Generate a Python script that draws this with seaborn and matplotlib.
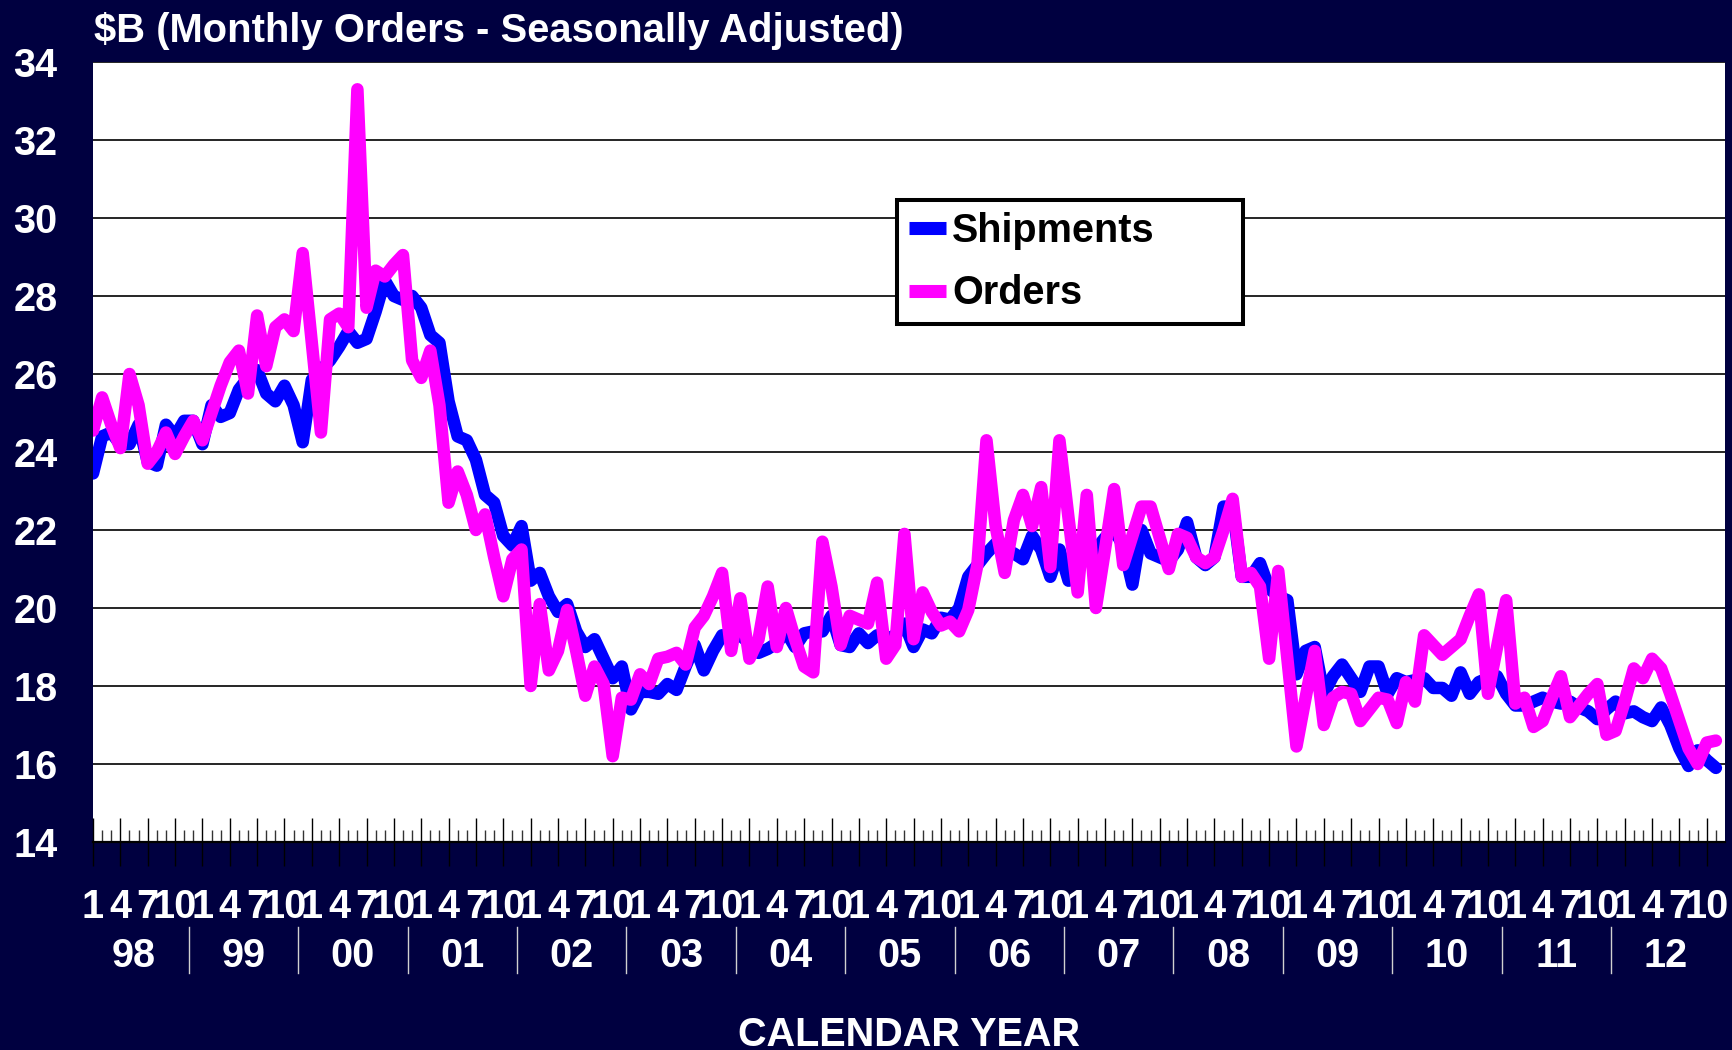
import matplotlib
matplotlib.use("Agg")
import matplotlib.pyplot as plt
import seaborn as sns
import pandas as pd
import numpy as np

# monthly values, Jan 1998 .. Nov 2012 ($B)
shipments = [
    23.45, 24.4, 24.5, 24.2, 24.2, 24.7, 23.75, 23.65, 24.7, 24.4, 24.8, 24.8,
    24.2, 25.2, 24.9, 25.0, 25.6, 25.9, 26.1, 25.5, 25.3, 25.7, 25.2, 24.25,
    25.85, 26.1, 26.35, 26.7, 27.1, 26.8, 26.9, 27.6, 28.4, 28.0, 27.9, 28.0,
    27.7, 27.0, 26.8, 25.3, 24.4, 24.3, 23.8, 22.9, 22.7, 21.85, 21.6, 22.1,
    20.7, 20.9, 20.3, 19.9, 20.1, 19.4, 19.0, 19.2, 18.7, 18.2, 18.5, 17.4,
    17.85, 17.85, 17.8, 18.05, 17.9, 18.5, 19.05, 18.4, 18.9, 19.3, 19.25, 19.3,
    19.1, 18.85, 18.95, 19.1, 19.4, 19.0, 19.35, 19.4, 19.4, 19.8, 19.05, 19.0,
    19.35, 19.1, 19.3, 19.2, 19.3, 19.6, 19.0, 19.45, 19.35, 19.75, 19.7, 20.0,
    20.8, 21.1, 21.4, 21.65, 21.5, 21.4, 21.25, 21.85, 21.5, 20.8, 21.5, 20.7,
    21.0, 21.6, 21.5, 21.8, 22.0, 21.6, 20.6, 22.0, 21.4, 21.3, 21.2, 21.5,
    22.2, 21.3, 21.1, 21.3, 22.6, 22.6, 20.8, 20.8, 21.15, 20.5, 20.3, 20.2,
    18.3, 18.9, 19.0, 17.8, 18.25, 18.55, 18.2, 17.85, 18.5, 18.5, 17.8, 18.2,
    18.1, 18.15, 18.2, 17.95, 17.95, 17.75, 18.35, 17.8, 18.1, 18.2, 18.25, 17.8,
    17.5, 17.5, 17.6, 17.7, 17.6, 17.55, 17.6, 17.45, 17.35, 17.15, 17.4, 17.6,
    17.3, 17.35, 17.2, 17.1, 17.45, 17.0, 16.4, 15.95, 16.35, 16.1, 15.9,
]
orders = [
    24.55, 25.4, 24.7, 24.1, 26.0, 25.2, 23.7, 24.0, 24.5, 23.95, 24.4, 24.8,
    24.3, 25.0, 25.7, 26.3, 26.6, 25.5, 27.5, 26.2, 27.2, 27.4, 27.1, 29.1,
    26.8, 24.5, 27.4, 27.55, 27.2, 33.3, 27.7, 28.65, 28.5, 28.8, 29.05, 26.35,
    25.9, 26.6, 25.2, 22.7, 23.5, 22.9, 22.0, 22.4, 21.3, 20.3, 21.25, 21.5,
    18.0, 20.1, 18.4, 18.9, 19.95, 18.9, 17.75, 18.5, 18.05, 16.2, 17.7, 17.65,
    18.3, 18.05, 18.7, 18.75, 18.85, 18.55, 19.5, 19.8, 20.3, 20.9, 18.9, 20.25,
    18.7, 19.2, 20.55, 19.0, 20.0, 19.2, 18.5, 18.35, 21.7, 20.55, 19.05, 19.8,
    19.7, 19.6, 20.65, 18.7, 19.05, 21.9, 19.2, 20.4, 19.9, 19.55, 19.65, 19.4,
    19.95, 21.1, 24.3, 22.1, 20.9, 22.25, 22.9, 22.1, 23.1, 21.05, 24.3, 22.3,
    20.4, 22.9, 20.0, 21.5, 23.05, 21.1, 21.85, 22.6, 22.6, 21.8, 21.0, 21.9,
    21.8, 21.3, 21.15, 21.3, 22.0, 22.8, 20.8, 20.9, 20.55, 18.7, 20.95, 18.7,
    16.45, 17.7, 18.9, 17.0, 17.7, 17.85, 17.8, 17.1, 17.4, 17.7, 17.65, 17.05,
    18.1, 17.6, 19.3, 19.05, 18.8, 19.0, 19.2, 19.8, 20.35, 17.8, 19.0, 20.2,
    17.55, 17.7, 16.95, 17.1, 17.7, 18.25, 17.2, 17.5, 17.8, 18.05, 16.75, 16.85,
    17.6, 18.45, 18.2, 18.7, 18.45, 17.8, 17.1, 16.4, 16.0, 16.55, 16.6,
]
quarter_labels = ["1", "4", "7", "10"]
year_labels = ["98", "99", "00", "01", "02", "03", "04", "05", "06", "07",
               "08", "09", "10", "11", "12"]

df = pd.DataFrame({"month": np.arange(len(shipments)),
                   "Shipments": shipments, "Orders": orders})

navy = "#000040"
plt.rcParams["font.family"] = "Liberation Sans"
plt.rcParams["font.weight"] = "bold"
fs = 28.5

fig = plt.figure(figsize=(17.33, 10.5), dpi=100, facecolor=navy)
ax = fig.add_axes([93 / 1733, 1 - 842 / 1050, 1632 / 1733, 780 / 1050])
ax.set_facecolor("white")

sns.lineplot(data=df, x="month", y="Shipments", color="#0000FF", linewidth=9,
             solid_capstyle="round", solid_joinstyle="round", ax=ax, label="Shipments")
sns.lineplot(data=df, x="month", y="Orders", color="#FF00FF", linewidth=9,
             solid_capstyle="round", solid_joinstyle="round", ax=ax, label="Orders")

ax.set_xlim(0, 179)
ax.set_ylim(14, 34)
ax.set_yticks(np.arange(14, 35, 2))
ax.set_yticklabels([str(v) for v in range(14, 35, 2)], color="white",
                   fontsize=fs, fontweight="bold")
ax.tick_params(axis="y", length=0, pad=25.6)
ax.yaxis.grid(True, color="black", linewidth=1.2)
ax.set_axisbelow(True)

ax.set_xticks(np.arange(0, 179, 3))
ax.set_xticks(np.arange(0, 179), minor=True)
ax.set_xticklabels([])
ax.tick_params(axis="x", which="major", direction="inout", length=34.6,
               width=1.0, color="black")
ax.tick_params(axis="x", which="minor", direction="in", length=8.6,
               width=1.0, color="#333333")
ax.set_xlabel("")
ax.set_ylabel("")

for side in ["top", "left", "right"]:
    ax.spines[side].set_visible(False)
ax.spines["bottom"].set_color("black")
ax.spines["bottom"].set_linewidth(1.6)

# month labels under each quarter tick
trans = ax.get_xaxis_transform()
for k, pos in enumerate(range(0, 179, 3)):
    ax.text(pos, -0.0974, quarter_labels[k % 4], transform=trans, ha="center",
            va="baseline", color="white", fontsize=fs, fontweight="bold",
            clip_on=False)

# year labels and separators
for k, yl in enumerate(year_labels):
    ax.text(12 * k + 4.5, -0.160, yl, transform=trans, ha="center",
            va="baseline", color="white", fontsize=fs, fontweight="bold",
            clip_on=False)
    if k > 0:
        ax.plot([12 * k - 1.5, 12 * k - 1.5], [-0.109, -0.168], transform=trans,
                color="#d0d0d0", linewidth=1.0, clip_on=False)

fig.text(909 / 1733, 4 / 1050, "CALENDAR YEAR", ha="center", va="baseline",
         color="white", fontsize=fs, fontweight="bold")
fig.text(94 / 1733, 1 - 42 / 1050, "\\$B (Monthly Orders - Seasonally Adjusted)",
         ha="left", va="baseline", color="white", fontsize=28.8, fontweight="bold")

leg = ax.legend(loc="upper left",
                bbox_to_anchor=(897 / 1733, 1 - 321 / 1050, 346 / 1733, 121 / 1050),
                bbox_transform=fig.transFigure, mode="expand", borderaxespad=0,
                frameon=True, fancybox=False, framealpha=1, edgecolor="black",
                prop={"family": "Liberation Sans", "weight": "bold", "size": fs},
                handlelength=0.93, handletextpad=0.16, borderpad=0.3,
                labelspacing=0.62)
leg.get_frame().set_linewidth(2.9)
for h in leg.get_lines():
    h.set_linewidth(9.4)
    h.set_solid_capstyle("butt")

fig.savefig("out.png", dpi=100, facecolor=navy)
